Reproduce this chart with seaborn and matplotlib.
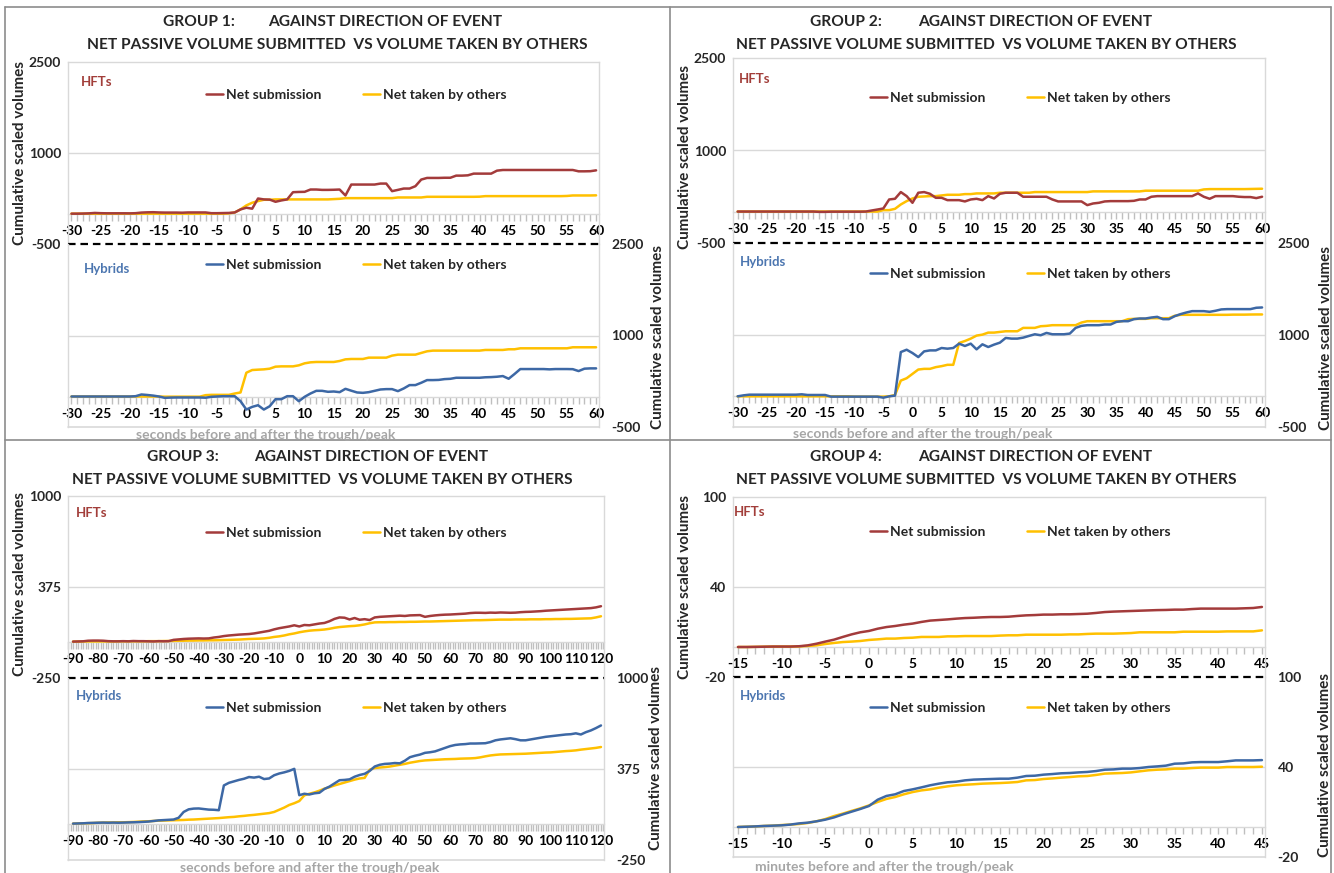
import numpy as np
import pandas as pd
import matplotlib
matplotlib.use("Agg")
import matplotlib.pyplot as plt
import seaborn as sns
from matplotlib.lines import Line2D
from matplotlib.ticker import MultipleLocator

sns.set_style("white")
plt.rcParams['font.family'] = ['Lato', 'DejaVu Sans']
plt.rcParams['font.weight'] = 'bold'
plt.rcParams['axes.unicode_minus'] = False

# ---------------- DATA ----------------
x_sec = list(range(-30, 61))          # groups 1 & 2 (seconds)
x_sec3 = list(range(-90, 121, 2))     # group 3 (seconds)
x_min = list(range(-15, 46))          # group 4 (minutes)

g1_hft_sub = [0, 0, 2, 5, 12, 8, 6, 6, 6, 6,
              5, 8, 18, 22, 24, 20, 18, 18, 18, 16,
              20, 20, 20, 20, 8, 8, 10, 12, 20, 70,
              98, 82, 250, 235, 232, 196, 218, 235, 354, 358,
              360, 398, 398, 392, 392, 394, 398, 300, 480, 480,
              480, 480, 480, 496, 496, 371, 392, 414, 414, 453,
              562, 589, 589, 589, 592, 592, 627, 627, 632, 660,
              660, 660, 660, 709, 720, 720, 720, 720, 720, 720,
              720, 720, 720, 720, 720, 720, 720, 698, 698, 700,
              714]
g1_hft_taken = [0] * 20 + \
               [0, 0, 0, 0, 0, 0, 0, 5, 20, 71,
                136, 180, 207, 229, 229, 235, 235, 235, 235, 235,
                235, 235, 235, 235, 235, 240, 245, 256, 256, 256,
                256, 256, 256, 256, 256, 256, 267, 267, 267, 267,
                267, 278, 278, 278, 278, 278, 278, 278, 278, 278,
                280, 289, 289, 289, 289, 289, 289, 289, 289, 289,
                289, 289, 289, 289, 289, 292, 300, 300, 300, 300,
                302]
g1_hyb_sub = [0, 0, 0, 0, 0, 0, 0, 0, 0, 0,
              0, 5, 33, 25, 15, 0, -22, -18, -16, -16,
              -16, -16, -16, -20, -5, 0, 5, 5, 5, -77,
              -214, -170, -143, -214, -160, -44, -44, 5, 5, -77,
              -5, 49, 93, 93, 77, 82, 71, 126, 95, 66,
              60, 71, 93, 115, 121, 121, 88, 132, 187, 187,
              225, 269, 269, 272, 285, 290, 307, 307, 307, 307,
              307, 315, 318, 324, 335, 291, 368, 450, 450, 450,
              450, 450, 445, 450, 450, 450, 448, 417, 456, 461,
              461]
g1_hyb_taken = [0, 0, 0, 0, 0, 0, 0, 0, 0, 0,
                0, 0, 0, 0, 0, 0, -3, -3, -3, -3,
                -3, -3, -3, 22, 27, 27, 27, 27, 49, 66,
                390, 434, 440, 445, 456, 489, 494, 494, 494, 511,
                544, 560, 566, 566, 566, 566, 582, 609, 615, 615,
                615, 637, 637, 637, 637, 670, 686, 686, 686, 686,
                714, 741, 752, 752, 752, 752, 752, 752, 752, 752,
                752, 763, 763, 763, 763, 774, 774, 790, 790, 790,
                790, 790, 790, 790, 790, 790, 807, 807, 807, 807,
                807]

g2_hft_sub = [10, 10, 10, 10, 10, 10, 10, 10, 10, 10,
              10, 10, 10, 10, 5, 5, 8, 8, 8, 8,
              8, 8, 10, 27, 43, 60, 206, 217, 326, 260,
              152, 315, 326, 298, 233, 233, 195, 195, 195, 174,
              206, 217, 195, 260, 222, 298, 315, 315, 315, 250,
              250, 250, 250, 250, 206, 174, 174, 174, 174, 174,
              114, 141, 152, 174, 179, 179, 179, 179, 184, 206,
              206, 250, 260, 260, 260, 260, 260, 260, 260, 304,
              250, 217, 260, 260, 260, 260, 250, 245, 245, 228,
              250]
g2_hft_taken = [10] * 20 + \
               [10, 10, 10, 10, 10, 33, 33, 54, 125, 179,
                222, 250, 255, 260, 260, 271, 282, 282, 282, 293,
                293, 304, 304, 304, 304, 315, 315, 315, 315, 315,
                315, 326, 326, 326, 326, 326, 326, 326, 326, 326,
                326, 337, 337, 337, 337, 337, 337, 337, 337, 337,
                348, 348, 348, 348, 348, 348, 348, 348, 348, 348,
                369, 374, 374, 374, 374, 374, 374, 374, 376, 378,
                380]
g2_hyb_sub = [0, 16, 27, 27, 27, 27, 27, 27, 27, 27,
              27, 33, 22, 22, 22, 22, -5, -5, -5, -5,
              -5, -5, -5, -5, -5, -22, 0, 11, 722, 760,
              706, 640, 733, 749, 749, 788, 777, 788, 859, 821,
              859, 766, 848, 804, 843, 875, 952, 941, 941, 957,
              985, 1012, 996, 1034, 1012, 1012, 1012, 1023, 1116, 1149,
              1160, 1160, 1160, 1171, 1171, 1214, 1225, 1225, 1258, 1269,
              1269, 1285, 1296, 1258, 1258, 1307, 1340, 1367, 1389, 1389,
              1389, 1378, 1395, 1417, 1422, 1422, 1422, 1422, 1422, 1444,
              1449]
g2_hyb_taken = [0] * 20 + \
               [-5, -5, -5, -5, -5, -5, 0, 22, 257, 295,
                366, 437, 448, 448, 476, 492, 514, 514, 870, 902,
                941, 990, 1006, 1039, 1039, 1050, 1061, 1061, 1061, 1116,
                1116, 1116, 1143, 1149, 1160, 1160, 1160, 1160, 1160, 1203,
                1225, 1225, 1225, 1225, 1225, 1225, 1225, 1258, 1263, 1263,
                1263, 1274, 1274, 1274, 1274, 1313, 1329, 1329, 1329, 1329,
                1329, 1329, 1329, 1329, 1329, 1332, 1332, 1332, 1334, 1335,
                1335]

g3_hft_sub = [0, 1, 2, 6, 7, 7, 6, 3, 2, 2,
              3, 2, 4, 3, 3, 2, 1, 3, 2, 3,
              12, 15, 18, 20, 21, 22, 21, 22, 28, 32,
              38, 42, 45, 48, 50, 52, 56, 62, 68, 74,
              84, 92, 98, 104, 112, 104, 114, 112, 118, 124,
              128, 140, 156, 166, 164, 152, 162, 150, 154, 148,
              166, 170, 172, 174, 176, 178, 176, 180, 181, 182,
              170, 176, 180, 183, 185, 186, 188, 190, 192, 196,
              198, 198, 197, 199, 198, 200, 199, 198, 199, 202,
              204, 205, 207, 209, 212, 214, 216, 218, 220, 222,
              224, 226, 228, 230, 235, 243]
g3_hft_taken = [0, 0, 1, 1, 1, 1, 1, 1, 1, 2,
                2, 2, 2, 2, 2, 3, 3, 3, 4, 4,
                5, 6, 6, 7, 7, 8, 8, 9, 9, 10,
                11, 12, 13, 14, 16, 18, 19, 20, 22, 26,
                32, 36, 42, 50, 56, 64, 70, 75, 78, 80,
                83, 88, 95, 100, 103, 106, 108, 112, 118, 126,
                132, 133, 133, 134, 134, 135, 135, 136, 136, 137,
                138, 138, 139, 140, 141, 142, 143, 144, 145, 146,
                147, 147, 148, 149, 150, 151, 151, 151, 152, 152,
                152, 153, 153, 153, 154, 154, 155, 155, 156, 156,
                157, 158, 159, 160, 166, 174]
g3_hyb_sub = [0, 1, 2, 4, 5, 6, 7, 6, 7, 6,
              7, 8, 9, 10, 12, 14, 18, 22, 24, 26,
              28, 40, 80, 98, 103, 104, 100, 96, 95, 92,
              262, 280, 290, 300, 308, 320, 316, 322, 306, 310,
              332, 344, 352, 362, 376, 195, 205, 200, 208, 212,
              238, 254, 276, 298, 300, 304, 322, 334, 342, 362,
              392, 404, 410, 412, 416, 414, 432, 456, 466, 474,
              486, 490, 496, 508, 520, 532, 540, 544, 546, 550,
              550, 551, 552, 560, 572, 578, 582, 586, 580, 572,
              572, 578, 584, 590, 596, 600, 604, 608, 612, 614,
              620, 612, 628, 640, 656, 674]
g3_hyb_taken = [0, 1, 2, 3, 4, 6, 7, 8, 8, 9,
                9, 10, 11, 13, 15, 16, 18, 20, 21, 22,
                23, 24, 25, 27, 28, 30, 32, 34, 36, 38,
                41, 44, 46, 50, 53, 57, 60, 64, 68, 72,
                80, 95, 110, 128, 140, 155, 194, 205, 214, 226,
                240, 250, 262, 272, 282, 292, 302, 310, 314, 370,
                382, 385, 388, 392, 398, 404, 410, 418, 424, 430,
                434, 436, 438, 440, 442, 443, 444, 446, 447, 448,
                450, 455, 462, 468, 472, 475, 476, 477, 478, 479,
                480, 482, 484, 486, 488, 489, 492, 495, 498, 500,
                503, 508, 512, 516, 520, 526]

g4_hft_sub = [0, 0, 0.1, 0.2, 0.3, 0.3, 0.3, 0.5, 1.1, 2.2,
              3.6, 4.9, 6.7, 8.4, 9.8, 10.7, 12.2, 13.3, 14.0, 14.9,
              15.6, 16.7, 17.6, 18.0, 18.4, 18.9, 19.3, 19.5, 19.8, 20.0,
              20.0, 20.2, 20.7, 21.1, 21.3, 21.6, 21.6, 21.8, 21.8, 22.0,
              22.2, 22.7, 23.3, 23.6, 23.8, 24.0, 24.2, 24.4, 24.6, 24.7,
              24.9, 24.9, 25.3, 25.6, 25.6, 25.6, 25.6, 25.6, 25.8, 26.0,
              26.7]
g4_hft_taken = [0, 0, 0.1, 0.2, 0.3, 0.3, 0.3, 0.4, 0.7, 1.1,
                2.0, 2.7, 3.3, 3.6, 4.0, 4.7, 5.1, 5.6, 5.6, 6.0,
                6.2, 6.7, 6.7, 6.7, 7.1, 7.1, 7.3, 7.3, 7.3, 7.3,
                7.6, 7.8, 7.8, 8.2, 8.2, 8.2, 8.2, 8.2, 8.4, 8.4,
                8.7, 8.9, 8.9, 8.9, 9.1, 9.3, 9.8, 9.8, 9.8, 9.8,
                9.8, 10.2, 10.2, 10.2, 10.2, 10.2, 10.4, 10.4, 10.4, 10.4,
                11.1]
g4_hyb_sub = [0, 0.2, 0.4, 0.7, 0.9, 1.1, 1.6, 2.4, 2.9, 3.8,
              4.9, 6.4, 8.4, 10.2, 12.0, 14.0, 18.2, 20.7, 21.8, 24.0,
              25.1, 26.4, 27.8, 28.9, 29.8, 30.2, 31.1, 31.6, 31.8, 32.0,
              32.2, 32.2, 32.9, 34.0, 34.2, 34.9, 35.3, 35.8, 36.0, 36.4,
              36.7, 37.3, 38.2, 38.4, 38.9, 38.9, 39.3, 40.0, 40.4, 40.9,
              42.2, 42.4, 43.1, 43.3, 43.3, 43.3, 43.8, 44.4, 44.4, 44.4,
              44.6]
g4_hyb_taken = [0, 0.2, 0.4, 0.7, 0.9, 1.3, 1.6, 2.0, 2.7, 3.8,
                5.3, 7.3, 8.9, 10.7, 12.4, 14.4, 16.7, 18.7, 20.0, 21.8,
                23.3, 24.4, 25.1, 26.2, 27.1, 27.8, 28.2, 28.5, 28.9, 29.1,
                29.3, 29.6, 30.0, 31.1, 31.3, 32.0, 32.4, 32.9, 33.3, 33.8,
                34.0, 34.7, 35.6, 35.8, 36.0, 36.4, 37.1, 37.8, 38.2, 38.4,
                38.9, 38.9, 39.3, 39.6, 39.6, 39.6, 40.0, 40.0, 40.0, 40.0,
                40.2]

y_ticks_12 = [-500, 1000, 2500]
y_ticks_3 = [-250, 375, 1000]
y_ticks_4 = [-20, 40, 100]

group_names = ["GROUP 1:", "GROUP 2:", "GROUP 3:", "GROUP 4:"]
title1 = "AGAINST DIRECTION OF EVENT"
title2 = "NET PASSIVE VOLUME SUBMITTED  VS VOLUME TAKEN BY OTHERS"
ylab = "Cumulative scaled volumes"
xlab_sec = "seconds before and after the trough/peak"
xlab_min = "minutes before and after the trough/peak"

# ---------------- STYLE ----------------
W, H = 1334, 873
fig = plt.figure(figsize=(W / 100, H / 100), dpi=100)
fig.patch.set_facecolor('white')

RED = '#A33B3B'
BLUE = '#3D68A5'
YEL = '#FFC000'
GRID = '#D9D9D9'
TICK = '#BFBFBF'
HFT_COL = '#A23E3A'
HYB_COL = '#4C76B0'
XLAB_COL = '#A6A6A6'


def fx(x):
    return x / W


def fy(y):
    return 1 - y / H


panels = [
    dict(x=x_sec, hs=g1_hft_sub, ht=g1_hft_taken, bs=g1_hyb_sub, bt=g1_hyb_taken,
         yt=y_ticks_12, box=(68, 599, 62, 244, 427), xlim=(-30.6, 60.5), major=5,
         name=group_names[0], t1=(163, 268, 22), t2=(337, 45),
         leg=(356, 95, 265), lab=((81, 82), (84, 269)),
         ylabL=(20, 153), ylabR=(658, 337), xlab=(xlab_sec, 136, 435)),
    dict(x=x_sec, hs=g2_hft_sub, ht=g2_hft_taken, bs=g2_hyb_sub, bt=g2_hyb_taken,
         yt=y_ticks_12, box=(733, 1265, 58, 243, 427), xlim=(-30.8, 60.5), major=5,
         name=group_names[1], t1=(810, 918, 22), t2=(986, 45),
         leg=(1020, 98, 274), lab=((739, 79), (740, 262)),
         ylabL=(685, 157), ylabR=(1326, 338), xlab=(xlab_sec, 793, 434)),
    dict(x=x_sec3, hs=g3_hft_sub, ht=g3_hft_taken, bs=g3_hyb_sub, bt=g3_hyb_taken,
         yt=y_ticks_3, box=(68, 604, 496, 678, 860), xlim=(-92, 121.2), major=10,
         name=group_names[2], t1=(147, 254, 457), t2=(322, 480),
         leg=(356, 533, 708), lab=((76, 513), (76, 696)),
         ylabL=(20, 584), ylabR=(656, 758), xlab=(xlab_sec, 180, 868)),
    dict(x=x_min, hs=g4_hft_sub, ht=g4_hft_taken, bs=g4_hyb_sub, bt=g4_hyb_taken,
         yt=y_ticks_4, box=(733, 1265, 497, 677, 857), xlim=(-15.57, 45.35), major=5,
         name=group_names[3], t1=(810, 918, 457), t2=(986, 480),
         leg=(1020, 532, 708), lab=((734, 512), (740, 696)),
         ylabL=(685, 587), ylabR=(1325, 765), xlab=(xlab_min, 755, 867)),
]

TICKFS = 10
LW = 1.8

for p in panels:
    L, R, T, M, B = p['box']
    ax_top = fig.add_axes([fx(L), fy(M), (R - L) / W, (M - T) / H])
    ax_bot = fig.add_axes([fx(L), fy(B), (R - L) / W, (B - M) / H])
    ylo, yhi = p['yt'][0], p['yt'][-1]
    ymid = p['yt'][1]

    for ax, s, t, col, which in [(ax_top, p['hs'], p['ht'], RED, 'top'),
                                 (ax_bot, p['bs'], p['bt'], BLUE, 'bot')]:
        df = pd.DataFrame({'x': p['x'], 'sub': s, 'taken': t})
        sns.lineplot(data=df, x='x', y='sub', ax=ax, color=col, linewidth=LW,
                     label='Net submission', zorder=4)
        sns.lineplot(data=df, x='x', y='taken', ax=ax, color=YEL, linewidth=LW,
                     label='Net taken by others', zorder=3)
        ax.set_xlim(*p['xlim'])
        ax.set_ylim(ylo, yhi)
        ax.set_xlabel('')
        ax.set_ylabel('')
        ax.patch.set_alpha(0)
        for sp in ['left', 'right', 'top', 'bottom']:
            ax.spines[sp].set_color(GRID)
            ax.spines[sp].set_linewidth(1)
        ax.spines['bottom'].set_position(('data', 0))
        ax.spines['bottom'].set_zorder(1)
        ax.xaxis.set_major_locator(MultipleLocator(p['major']))
        ax.xaxis.set_minor_locator(MultipleLocator(1))
        ax.tick_params(axis='x', which='both', direction='out', length=5,
                       width=1, color=TICK, bottom=True)
        ax.tick_params(axis='x', which='major', labelsize=TICKFS, pad=3,
                       labelcolor='black')
        ax.set_xticks([v for v in range(int(np.ceil(p['xlim'][0])), int(p['xlim'][1]) + 1)
                       if v % p['major'] == 0])
        ax.axhline(ymid, color=GRID, lw=1, zorder=0)
        ax.set_yticks(p['yt'])
        if which == 'top':
            ax.spines['top'].set_visible(True)
            ax.tick_params(axis='y', left=True, right=False, length=0,
                           labelsize=TICKFS, pad=5)
            ax.axhline(ylo, color='black', lw=1.6, ls=(0, (3.4, 2.2)),
                       clip_on=False, zorder=6)
            lgy = p['leg'][1]
        else:
            ax.spines['top'].set_visible(False)
            ax.yaxis.tick_right()
            ax.tick_params(axis='y', left=False, right=True, length=0,
                           labelsize=TICKFS, pad=9)
            ax.axhline(ylo, color=GRID, lw=1.2, clip_on=False, zorder=0)
            lgy = p['leg'][2]
        for lbl in ax.get_xticklabels() + ax.get_yticklabels():
            lbl.set_fontweight('bold')
        ax.legend(loc='center', bbox_to_anchor=(fx(p['leg'][0]), fy(lgy)),
                  bbox_transform=fig.transFigure, ncol=2, frameon=False,
                  fontsize=10, handlelength=1.25, handletextpad=0.2,
                  columnspacing=3.0, borderpad=0)

    # series labels
    fig.text(fx(p['lab'][0][0]), fy(p['lab'][0][1]), 'HFTs', color=HFT_COL,
             fontsize=9.5, fontweight='bold', ha='left', va='center')
    fig.text(fx(p['lab'][1][0]), fy(p['lab'][1][1]), 'Hybrids', color=HYB_COL,
             fontsize=9.5, fontweight='bold', ha='left', va='center')
    # titles
    gx, ax_, ty = p['t1']
    fig.text(fx(gx), fy(ty), p['name'], fontsize=11.2, fontweight='bold',
             ha='left', va='center')
    fig.text(fx(ax_), fy(ty), title1, fontsize=11.2, fontweight='bold',
             ha='left', va='center')
    fig.text(fx(p['t2'][0]), fy(p['t2'][1]), title2, fontsize=11.2,
             fontweight='bold', ha='center', va='center')
    # axis titles
    fig.text(fx(p['ylabL'][0]), fy(p['ylabL'][1]), ylab, rotation=90,
             fontsize=11, fontweight='bold', ha='center', va='center')
    fig.text(fx(p['ylabR'][0]), fy(p['ylabR'][1]), ylab, rotation=90,
             fontsize=11, fontweight='bold', ha='center', va='center')
    fig.text(fx(p['xlab'][1]), fy(p['xlab'][2]), p['xlab'][0], color=XLAB_COL,
             fontsize=10, fontweight='bold', ha='left', va='center')

# panel frames
BORDER = '#8C8C8C'
for xs, ys in [((5, 1331), (7, 7)), ((5, 5), (7, 873)), ((1331, 1331), (7, 873)),
               ((670, 670), (7, 873)), ((5, 1331), (440, 440))]:
    fig.add_artist(Line2D([fx(xs[0]), fx(xs[1])], [fy(ys[0]), fy(ys[1])],
                          transform=fig.transFigure, color=BORDER, lw=1.2))

fig.savefig('out.png', dpi=100, facecolor='white')
